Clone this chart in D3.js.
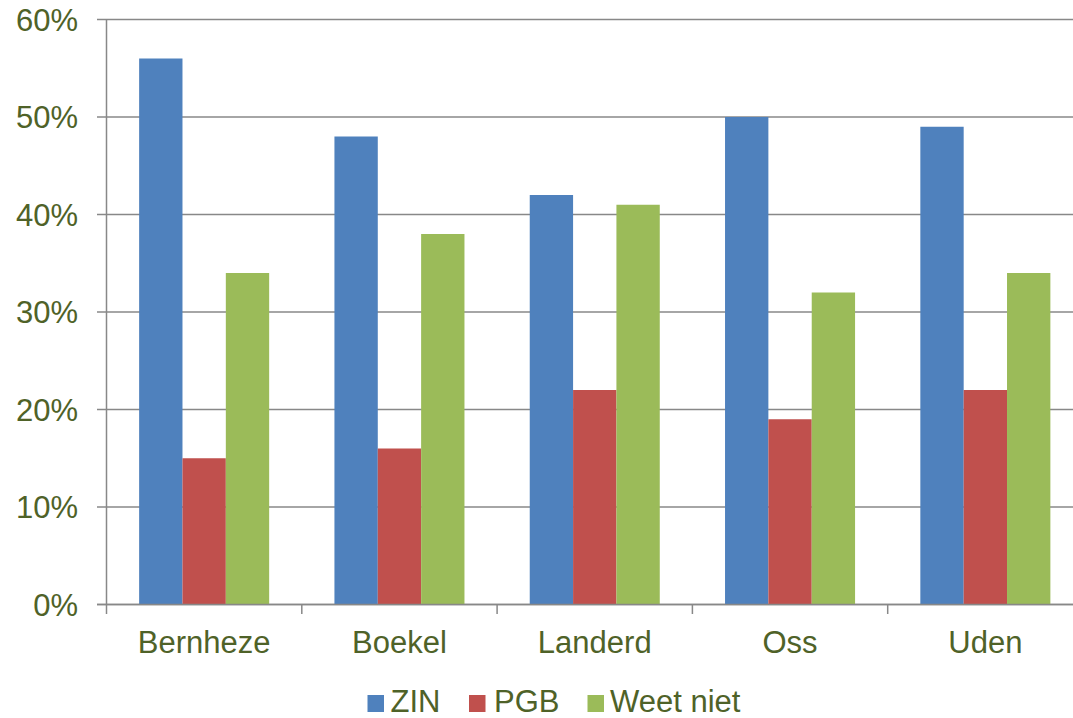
<!DOCTYPE html>
<html>
<head>
<meta charset="utf-8">
<script src="https://cdn.jsdelivr.net/npm/d3@7"></script>
<style>
  html, body { margin: 0; padding: 0; background: #fff; overflow: hidden; }
  svg { display: block; }
  text { font-family: "Liberation Sans", Arial, sans-serif; fill: #4F6228; }
</style>
</head>
<body>
<script>
// Gemeenten en reeksen
const categories = ["Bernheze", "Boekel", "Landerd", "Oss", "Uden"];
const seriesNames = ["ZIN", "PGB", "Weet niet"];
const zin = [56, 48, 42, 50, 49];
const pgb = [15, 16, 22, 19, 22];
const weetNiet = [34, 38, 41, 32, 34];
const yTicks = [0, 10, 20, 30, 40, 50, 60];
const colors = ["#4F81BD", "#C0504D", "#9BBB59"];

const seriesValues = [zin, pgb, weetNiet];

const W = 1073, H = 718;
const svg = d3.select("body").append("svg").attr("width", W).attr("height", H);

const x0 = d3.scaleBand().domain(categories).range([106.5, 1083]).paddingInner(0).paddingOuter(0);
const x1 = d3.scaleBand().domain(seriesNames).range([0, x0.bandwidth()]).paddingInner(0).paddingOuter(0.5);
// outer padding chosen so the group of three bars takes about two thirds of each band
x1.range([0, x0.bandwidth()]).paddingOuter(0.753);
const y = d3.scaleLinear().domain([0, 60]).range([604.5, 19.5]);

const gridColor = "#888888";

// horizontal gridlines with short ticks to the left of the axis
svg.append("g").selectAll("line").data(yTicks).join("line")
  .attr("x1", 97).attr("x2", W)
  .attr("y1", d => y(d)).attr("y2", d => y(d))
  .attr("stroke", gridColor).attr("stroke-width", 1.5);

// y-axis labels
svg.append("g").selectAll("text").data(yTicks).join("text")
  .attr("x", 78).attr("y", d => y(d)).attr("dy", "0.36em")
  .attr("text-anchor", "end").attr("font-size", 31)
  .text(d => d + "%");

// bars
const groups = svg.append("g").selectAll("g").data(categories).join("g")
  .attr("transform", d => `translate(${x0(d)},0)`);
groups.selectAll("rect")
  .data((c, i) => seriesNames.map((s, j) => ({ s, v: seriesValues[j][i], j })))
  .join("rect")
  .attr("x", d => x1(d.s))
  .attr("width", x1.bandwidth())
  .attr("y", d => y(d.v))
  .attr("height", d => y(0) - y(d.v))
  .attr("fill", d => colors[d.j]);

// y axis line
svg.append("line").attr("x1", 106.5).attr("x2", 106.5).attr("y1", y(60)).attr("y2", y(0))
  .attr("stroke", gridColor).attr("stroke-width", 1.5);
// baseline
svg.append("line").attr("x1", 97).attr("x2", W).attr("y1", y(0)).attr("y2", y(0))
  .attr("stroke", gridColor).attr("stroke-width", 1.5);

// category boundary ticks
const bounds = categories.map(c => x0(c)).concat([x0(categories[categories.length - 1]) + x0.bandwidth()]);
svg.append("g").selectAll("line").data(bounds).join("line")
  .attr("x1", d => d).attr("x2", d => d)
  .attr("y1", y(0)).attr("y2", y(0) + 9.5)
  .attr("stroke", gridColor).attr("stroke-width", 1.5);

// category labels
svg.append("g").selectAll("text").data(categories).join("text")
  .attr("x", d => x0(d) + x0.bandwidth() / 2).attr("y", 653)
  .attr("text-anchor", "middle").attr("font-size", 31)
  .text(d => d);

// legend
const legendItems = [
  { name: seriesNames[0], box: 367.5, text: 390.5 },
  { name: seriesNames[1], box: 469, text: 494 },
  { name: seriesNames[2], box: 587.5, text: 610 }
];
const lg = svg.append("g");
legendItems.forEach((it, i) => {
  lg.append("rect").attr("x", it.box).attr("y", 695).attr("width", 16.5).attr("height", 17)
    .attr("fill", colors[i]);
  lg.append("text").attr("x", it.text).attr("y", 712.3).attr("font-size", 31).text(it.name);
});
</script>
</body>
</html>
